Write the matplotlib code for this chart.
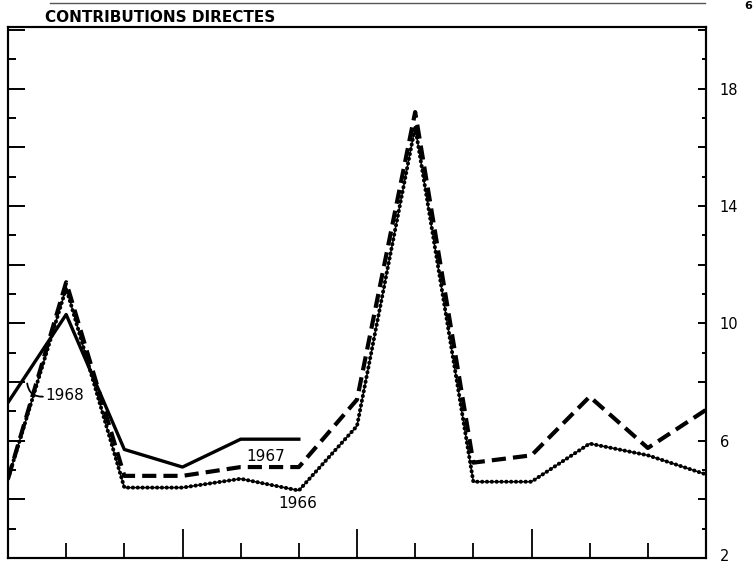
import matplotlib.pyplot as plt
import matplotlib.transforms as mtransforms
import numpy as np

# values (13 points, one per month boundary)
months = np.arange(13)
y1966 = [4.7, 11.2, 4.4, 4.4, 4.7, 4.3, 6.5, 16.7, 4.6, 4.6, 5.9, 5.5, 4.85]
y1967 = [4.7, 11.4, 4.8, 4.8, 5.1, 5.1, 7.4, 17.2, 5.25, 5.5, 7.5, 5.75, 7.05]
y1968 = [7.3, 10.3, 5.7, 5.1, 6.05, 6.05]
ylabels_at = [2, 6, 10, 14, 18]

fig = plt.figure(figsize=(7.54, 5.63), dpi=100)
ax = fig.add_axes([8/754, 1-558/563, 698/754, 531/563])
ax.set_xlim(0, 12)
ax.set_ylim(2, 20.1)

ax.plot(months, y1966, color='black', lw=1.0)
ax.plot(months, y1966, color='black', lw=2.9, ls=(0, (0.05, 1.15)),
        dash_capstyle='round')
ax.plot(months, y1967, color='black', lw=3.0, ls=(0, (3.4, 1.7)))
ax.plot(months[:6], y1968, color='black', lw=2.4)

lab = dict(fontsize=11, ha='left', va='center')
ax.text(4.1, 5.45, '1967', **lab)
ax.text(4.65, 3.85, '1966', **lab)
ax.text(0.64, 7.55, '1968', **lab)
# little curved leader from the 1968 line to its label
ax.annotate('', xy=(0.33, 7.95), xytext=(0.6, 7.5),
            arrowprops=dict(arrowstyle='-', lw=1.3, color='black',
                            connectionstyle='arc3,rad=-0.45',
                            shrinkA=0, shrinkB=0))

for s in ax.spines.values():
    s.set_linewidth(1.5)

# bottom ticks
ax.set_xticks([3, 6, 9])
ax.set_xticks([1, 2, 4, 5, 7, 8, 10, 11], minor=True)
ax.tick_params(axis='x', which='major', direction='in', length=21, width=1.3,
               labelbottom=False)
ax.tick_params(axis='x', which='minor', direction='in', length=11, width=1.3)

# left ticks
ax.set_yticks(np.arange(2, 21, 2))
ax.set_yticks(np.arange(3, 21, 2), minor=True)
ax.tick_params(axis='y', which='major', direction='in', length=12, width=1.4,
               labelleft=False)
ax.tick_params(axis='y', which='minor', direction='in', length=6, width=1.4)

# right ticks and labels
ax2 = ax.twinx()
ax2.set_ylim(ax.get_ylim())
ax2.set_yticks(np.arange(2, 21, 2))
ax2.set_yticks(np.arange(3, 21, 2), minor=True)
ax2.set_yticklabels([str(v) if v in ylabels_at else '' for v in range(2, 21, 2)])
ax2.tick_params(axis='y', which='major', direction='in', length=6, width=1.4,
                pad=10, labelsize=10.5)
ax2.tick_params(axis='y', which='minor', direction='in', length=3, width=1.4)
for s in ax2.spines.values():
    s.set_linewidth(1.5)
# keep the bottom "2" inside the picture
lbl2 = ax2.get_yticklabels()[0]
lbl2.set_transform(lbl2.get_transform() +
                   mtransforms.ScaledTranslation(0, 3/100, fig.dpi_scale_trans))

fig.text(45/754, 1-17/563, 'CONTRIBUTIONS DIRECTES', fontsize=11,
         fontweight='bold', ha='left', va='center')
# remnant of the chart above
fig.add_artist(plt.Line2D([50/754, 705/754], [1-3/563, 1-3/563],
                          color='#555555', lw=1.0))
fig.text(744/754, 1-6/563, '6', fontsize=8, fontweight='bold',
         ha='left', va='center')

fig.savefig('out.png', dpi=100)
